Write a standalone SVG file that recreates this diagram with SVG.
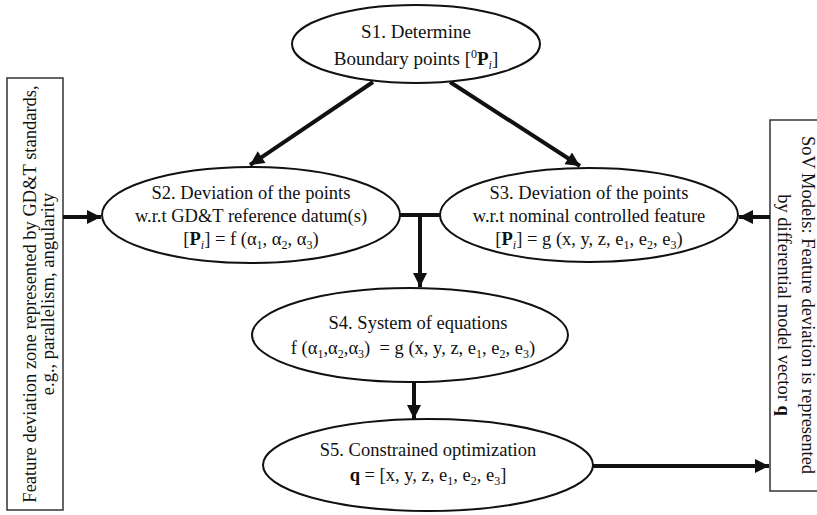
<svg xmlns="http://www.w3.org/2000/svg" width="817" height="515" viewBox="0 0 817 515">
<style>
  text { font-family: "Liberation Serif", "Times New Roman", serif; font-size: 18.5px; fill: #111; }
  .node { fill: #fff; stroke: #111; stroke-width: 2; }
  .box { fill: #fff; stroke: #333; stroke-width: 1.5; }
  .conn { stroke: #111; stroke-width: 4; fill: none; }
  .b { font-weight: bold; }
  .i { font-style: italic; }
  .sub { font-size: 12px; }
  .big { font-size: 19px; }
</style>
<defs>
  <marker id="ah" viewBox="0 0 10 10" refX="10" refY="5" markerWidth="4.5" markerHeight="3.5" markerUnits="strokeWidth" orient="auto">
    <path d="M0,0 L10,5 L0,10 Z" fill="#111"/>
  </marker>
</defs>
<rect width="817" height="515" fill="#fff"/>

<g id="left-box">
  <rect class="box" x="7" y="78" width="56" height="432"/>
  <g transform="translate(35,294) rotate(-90)" text-anchor="middle">
    <text x="0" y="1">Feature deviation zone represented by GD&amp;T standards,</text>
    <text x="0" y="19">e.g., parallelism, angularity</text>
  </g>
</g>

<g id="right-box">
  <rect class="box" x="770" y="120" width="60" height="371"/>
  <g transform="translate(795,305) rotate(90)" text-anchor="middle">
    <text x="0" y="-7">SoV Models: Feature deviation is represented</text>
    <text x="0" y="17">by differential model vector <tspan class="b">q</tspan></text>
  </g>
</g>

<g id="connectors">
  <line class="conn" x1="373" y1="82" x2="250" y2="165" marker-end="url(#ah)"/>
  <line class="conn" x1="450" y1="82" x2="580" y2="166" marker-end="url(#ah)"/>
  <line class="conn" x1="63" y1="217" x2="101" y2="217" marker-end="url(#ah)"/>
  <line class="conn" x1="770" y1="217" x2="739" y2="217" marker-end="url(#ah)"/>
  <line class="conn" x1="399" y1="215" x2="441" y2="215"/>
  <line class="conn" x1="420" y1="215" x2="420" y2="287" marker-end="url(#ah)"/>
  <line class="conn" x1="414" y1="383" x2="414" y2="419" marker-end="url(#ah)"/>
  <line class="conn" x1="593" y1="466" x2="769" y2="466" marker-end="url(#ah)"/>
</g>

<g id="S1">
  <ellipse class="node" cx="416" cy="44" rx="124" ry="39"/>
  <text class="big" x="416" y="38" text-anchor="middle">S1. Determine</text>
  <text class="big" x="416" y="65" text-anchor="middle">Boundary points [<tspan class="sub" dy="-7">0</tspan><tspan class="b" dy="7">P</tspan><tspan class="i sub" dy="4">i</tspan><tspan dy="-4">]</tspan></text>
</g>

<g id="S2">
  <ellipse class="node" cx="251" cy="215" rx="149" ry="48"/>
  <text x="251" y="199" text-anchor="middle">S2. Deviation of the points</text>
  <text x="251" y="222" text-anchor="middle">w.r.t GD&amp;T reference datum(s)</text>
  <text x="251" y="245" text-anchor="middle">[<tspan class="b">P</tspan><tspan class="i sub" dy="4">i</tspan><tspan dy="-4">] = f (α</tspan><tspan class="sub" dy="4">1</tspan><tspan dy="-4">, α</tspan><tspan class="sub" dy="4">2</tspan><tspan dy="-4">, α</tspan><tspan class="sub" dy="4">3</tspan><tspan dy="-4">)</tspan></text>
</g>

<g id="S3">
  <ellipse class="node" cx="589" cy="215" rx="149" ry="47"/>
  <text x="589" y="199" text-anchor="middle">S3. Deviation of the points</text>
  <text x="589" y="222" text-anchor="middle">w.r.t nominal controlled feature</text>
  <text x="589" y="245" text-anchor="middle">[<tspan class="b">P</tspan><tspan class="i sub" dy="4">i</tspan><tspan dy="-4">] = g (x, y, z, e</tspan><tspan class="sub" dy="4">1</tspan><tspan dy="-4">, e</tspan><tspan class="sub" dy="4">2</tspan><tspan dy="-4">, e</tspan><tspan class="sub" dy="4">3</tspan><tspan dy="-4">)</tspan></text>
</g>

<g id="S4">
  <ellipse class="node" cx="410" cy="335" rx="158" ry="47"/>
  <text x="418" y="329" text-anchor="middle">S4. System of equations</text>
  <text x="413" y="354" text-anchor="middle">f (α<tspan class="sub" dy="4">1</tspan><tspan dy="-4">,α</tspan><tspan class="sub" dy="4">2</tspan><tspan dy="-4">,α</tspan><tspan class="sub" dy="4">3</tspan><tspan dy="-4">)&#160; = g (x, y, z, e</tspan><tspan class="sub" dy="4">1</tspan><tspan dy="-4">, e</tspan><tspan class="sub" dy="4">2</tspan><tspan dy="-4">, e</tspan><tspan class="sub" dy="4">3</tspan><tspan dy="-4">)</tspan></text>
</g>

<g id="S5">
  <ellipse class="node" cx="428" cy="465" rx="165" ry="46"/>
  <text x="428" y="456" text-anchor="middle">S5. Constrained optimization</text>
  <text x="428" y="481" text-anchor="middle"><tspan class="b">q</tspan> = [x, y, z, e<tspan class="sub" dy="4">1</tspan><tspan dy="-4">, e</tspan><tspan class="sub" dy="4">2</tspan><tspan dy="-4">, e</tspan><tspan class="sub" dy="4">3</tspan><tspan dy="-4">]</tspan></text>
</g>
</svg>
